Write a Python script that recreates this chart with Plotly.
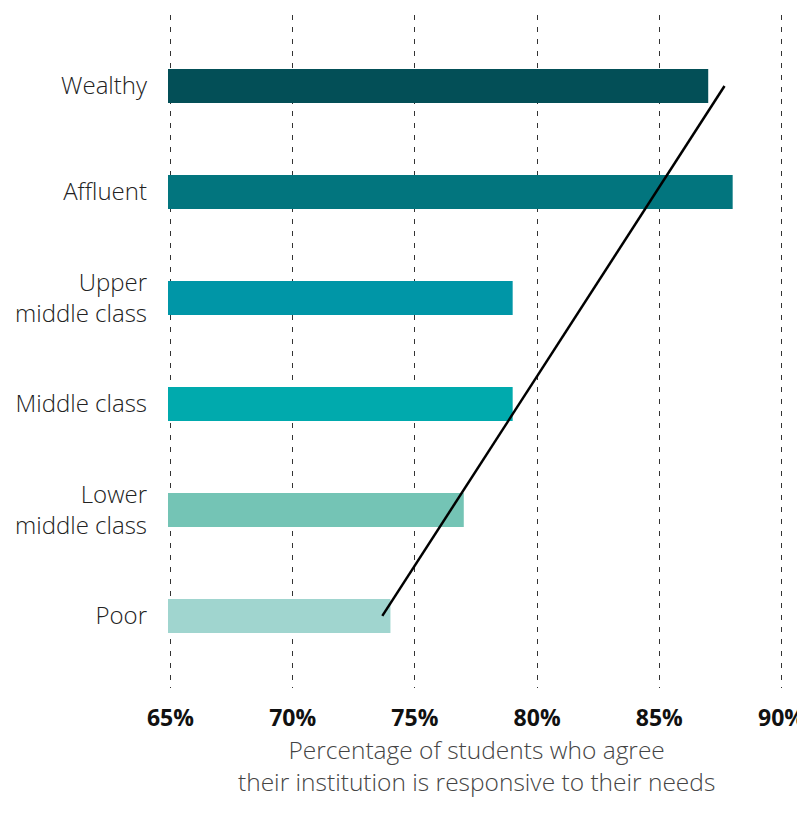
import numpy as np
import plotly.graph_objects as go

categories = ["Poor", "Lower<br>middle class", "Middle class", "Upper<br>middle class", "Affluent", "Wealthy"]
values = [74, 77, 79, 79, 88, 87]
colors = ["#A0D5CF", "#74C4B5", "#00AAAD", "#0096A7", "#02757E", "#034F57"]
tick_vals = [65, 70, 75, 80, 85, 90]
tick_text = ["65%", "70%", "75%", "80%", "85%", "90%"]
x_title = "Percentage of students who agree<br>their institution is responsive to their needs"

idx = np.arange(len(values))
slope, intercept = np.polyfit(idx, values, 1)
trend_x = [intercept + slope * idx[0], intercept + slope * idx[-1]]
trend_y = [categories[0], categories[-1]]

fig = go.Figure()
fig.add_trace(go.Bar(
    x=values, y=categories, orientation="h",
    marker=dict(color=colors, line=dict(width=0)),
    width=0.32, base=0, hoverinfo="x+y",
))
fig.add_trace(go.Scatter(
    x=trend_x, y=trend_y, mode="lines",
    line=dict(color="#000000", width=2.5), hoverinfo="skip",
))

fig.update_layout(
    width=805, height=822,
    margin=dict(l=159.5, r=28.5, t=7, b=142),
    paper_bgcolor="white", plot_bgcolor="white",
    showlegend=False,
    font=dict(family="Open Sans", color="#222222"),
    xaxis=dict(
        range=[64.9, 90.1], tickvals=tick_vals, ticktext=tick_text,
        showgrid=True, gridcolor="#333333", gridwidth=1, griddash="5px,7px",
        zeroline=False, showline=False, ticks="", automargin=False,
        tickfont=dict(family="Open Sans", size=23, color="#111111", weight="bold"),
        ticklabelstandoff=14,
    ),
    yaxis=dict(
        type="category", categoryorder="array", categoryarray=categories,
        range=[-0.68, 5.67], showgrid=False, zeroline=False, showline=False,
        ticks="", ticklabelstandoff=20, automargin=False,
        tickfont=dict(family="Open Sans", size=24, color="#222222", weight=300),
    ),
    annotations=[dict(
        text=x_title, xref="paper", yref="paper", x=0.5, y=-0.064,
        xanchor="center", yanchor="top", showarrow=False, align="center",
        font=dict(family="Open Sans", size=24.5, color="#444444", weight=300),
    )],
)

fig.write_html("out.html")
